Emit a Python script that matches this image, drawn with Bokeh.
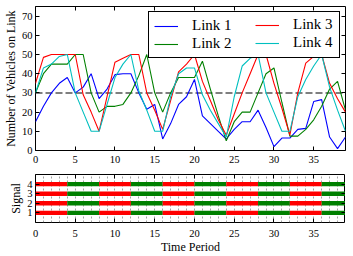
from bokeh.plotting import figure
from bokeh.models import (Span, Legend, LegendItem, LinearAxis, FixedTicker,
                          SingleIntervalTicker, Range1d, ColumnDataSource)
from bokeh.layouts import column
from bokeh.embed import file_html
from bokeh.resources import INLINE

# ---------------- data ----------------
periods = list(range(40))
link1 = [15, 23, 30, 35, 38, 30, 33, 40, 27, 32,
         39.5, 40, 40, 30, 21.5, 24, 6, 14, 24, 28,
         37, 18, 14, 10, 6, 11, 15, 15, 21, 12,
         2, 6.5, 6.5, 11, 11.5, 25.5, 26.5, 7, 1, 7]
link2 = [30, 40, 45, 45, 45, 50, 50, 30, 20, 23,
         23, 24, 30, 39, 50, 30, 20, 30, 38, 38,
         38, 46.5, 32, 18, 5, 15, 20, 20, 30, 40,
         43, 25, 7.5, 7.5, 11, 16, 23, 32, 36, 21]
link3 = [35, 48.5, 50, 50, 50, 50, 29, 20, 10, 28,
         46, 48, 50, 50, 30, 21, 11, 26, 41, 45,
         50, 36, 26, 16, 8, 19, 30, 40, 50, 50,
         35, 22, 8, 30, 45.5, 49, 50, 35, 27, 20]
link4 = [30, 43, 45, 49, 50, 30, 20, 10, 10, 24,
         38, 45, 50, 31, 21, 10, 10, 28, 40, 43,
         43, 29, 21, 14, 7, 28, 44, 48, 50, 30,
         20, 10, 10, 28, 37, 44, 50, 33, 21, 10]
link_names = ["Link 1", "Link 2", "Link 3", "Link 4"]
threshold = 30

x_ticks = [0, 5, 10, 15, 20, 25, 30, 35]
y_ticks = [0, 10, 20, 30, 40, 50, 60, 70]
signal_rows = [1, 2, 3, 4]
# signal state for each period 0..38 (R = red, G = green), one string per link
signal_1 = "RRRRGGGGRRRRGGGGRRRRGGGGRRRRGGGGRRRRGGG"
signal_2 = "RRRRGGGGRRRRGGGGRRRRGGGGRRRRGGGGRRRRGGG"
signal_3 = "RRRRGGGGRRRRGGGGRRRRGGGGRRRRGGGGRRRRGGG"
signal_4 = "RRRRGGGGRRRRGGGGRRRRGGGGRRRRGGGGRRRRGGG"

# ---------------- style ----------------
colors = ["#0000ff", "#008000", "#ff0000", "#00bfbf"]
state_colors = {"R": "#ff0000", "G": "#008000"}
FONT = "Liberation Serif"
FRAME_W = 310


def style_axis(ax, label_size="10.5px", standoff=3):
    ax.axis_line_color = None
    ax.major_tick_in = 4
    ax.major_tick_out = 0
    ax.major_tick_line_color = "black"
    ax.minor_tick_in = 0
    ax.minor_tick_out = 0
    ax.major_label_text_font = FONT
    ax.major_label_text_font_size = label_size
    ax.major_label_text_color = "black"
    ax.major_label_standoff = standoff
    ax.axis_label_text_font = FONT
    ax.axis_label_text_font_size = "12px"
    ax.axis_label_text_font_style = "normal"
    ax.axis_label_text_color = "black"
    ax.axis_label_standoff = 1


def add_mirror_axes(p, xt, yt):
    top = LinearAxis(ticker=FixedTicker(ticks=xt),
                     major_label_overrides={t: "" for t in xt})
    right = LinearAxis(ticker=FixedTicker(ticks=yt),
                       major_label_overrides={t: "" for t in yt})
    for ax in (top, right):
        style_axis(ax, standoff=0)
    p.add_layout(top, "above")
    p.add_layout(right, "right")


# ---------------- main plot ----------------
p1 = figure(frame_width=FRAME_W, frame_height=144,
            x_range=Range1d(0, 39), y_range=Range1d(0, 75),
            output_backend="svg", toolbar_location=None,
            min_border_left=28, min_border_right=6,
            min_border_top=6, min_border_bottom=2)
p1.outline_line_color = "black"
p1.outline_line_alpha = 1
p1.outline_line_width = 1
p1.grid.visible = False
p1.background_fill_color = "white"

p1.add_layout(Span(location=threshold, dimension="width", line_color="#555555",
                   line_width=1.5, line_dash="7 3", level="underlay"))

renderers = []
for vals, c in zip([link1, link2, link3, link4], colors):
    r = p1.line(periods, vals, line_color=c, line_width=1.1)
    renderers.append(r)

p1.xaxis.ticker = FixedTicker(ticks=x_ticks)
p1.yaxis.ticker = FixedTicker(ticks=y_ticks)
p1.yaxis.axis_label = "Number of Vehicles on Link"
for ax in p1.yaxis:
    style_axis(ax)
for ax in p1.xaxis:
    style_axis(ax, standoff=5)
add_mirror_axes(p1, x_ticks, y_ticks)

common_leg = dict(location="top_right", margin=5, padding=5, spacing=1,
                  glyph_width=24, glyph_height=16, label_height=16,
                  label_standoff=14, label_text_font=FONT,
                  label_text_font_size="15px", label_text_color="black")
legA = Legend(items=[LegendItem(label=link_names[0], renderers=[renderers[0]]),
                     LegendItem(label=link_names[1], renderers=[renderers[1]])],
              label_width=142, border_line_color="black", border_line_width=1,
              border_line_alpha=1, background_fill_color="white",
              background_fill_alpha=1, **common_leg)
legB = Legend(items=[LegendItem(label=link_names[2], renderers=[renderers[2]]),
                     LegendItem(label=link_names[3], renderers=[renderers[3]])],
              label_width=42, border_line_alpha=0, background_fill_alpha=0,
              **common_leg)
p1.add_layout(legA)
p1.add_layout(legB)

# ---------------- signal plot ----------------
p2 = figure(frame_width=FRAME_W, frame_height=48,
            x_range=Range1d(0, 39), y_range=Range1d(0, 5),
            output_backend="svg", toolbar_location=None,
            min_border_left=28, min_border_right=6,
            min_border_top=9, min_border_bottom=2)
p2.outline_line_color = "black"
p2.outline_line_alpha = 1
p2.outline_line_width = 1
p2.ygrid.visible = False
p2.xgrid.ticker = SingleIntervalTicker(interval=1)
p2.xgrid.grid_line_color = "#8a8a8a"
p2.xgrid.grid_line_dash = "2 2"
p2.xgrid.grid_line_width = 0.8

left, right, bottom, top, fill = [], [], [], [], []
for row, states in zip(signal_rows, [signal_1, signal_2, signal_3, signal_4]):
    start = 0
    for i in range(1, len(states) + 1):
        if i == len(states) or states[i] != states[start]:
            left.append(start)
            right.append(i)
            bottom.append(row - 0.23)
            top.append(row + 0.23)
            fill.append(state_colors[states[start]])
            start = i
src = ColumnDataSource(dict(left=left, right=right, bottom=bottom, top=top, fill=fill))
p2.quad(left="left", right="right", bottom="bottom", top="top",
        fill_color="fill", line_color=None, source=src)

p2.xaxis.ticker = FixedTicker(ticks=x_ticks)
p2.yaxis.ticker = FixedTicker(ticks=signal_rows)
p2.xaxis.axis_label = "Time Period"
p2.yaxis.axis_label = "Signal"
for ax in p2.yaxis:
    style_axis(ax)
for ax in p2.xaxis:
    style_axis(ax, standoff=7)
    ax.axis_label_standoff = 0
add_mirror_axes(p2, x_ticks, signal_rows)

layout = column(p1, p2, spacing=0)
open("out.html", "w").write(file_html(layout, INLINE))
